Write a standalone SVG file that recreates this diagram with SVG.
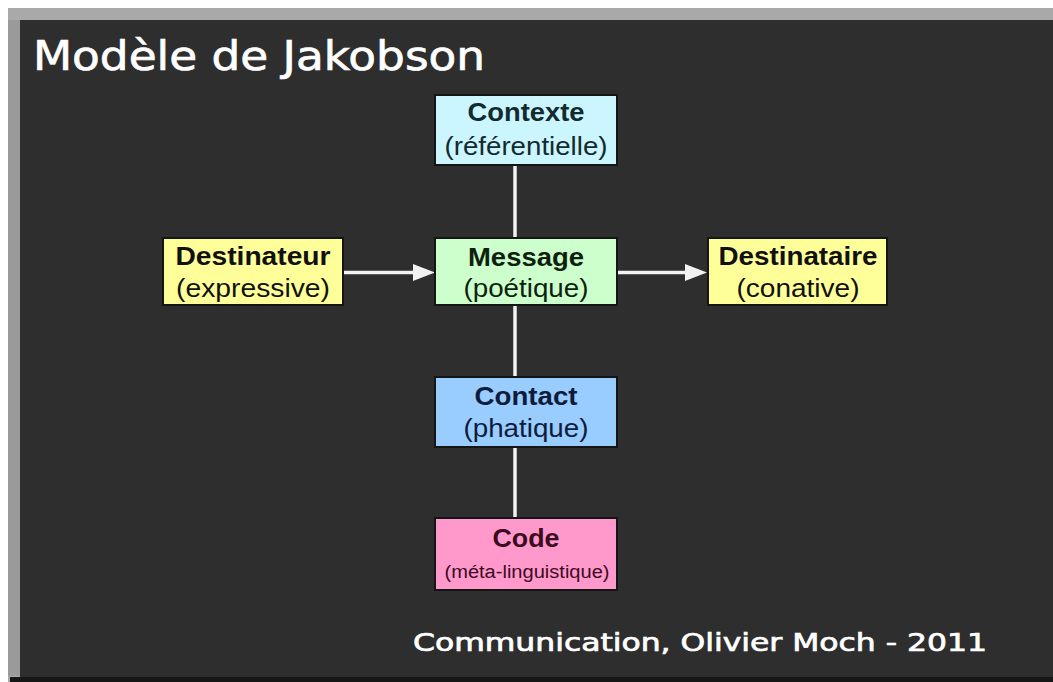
<svg xmlns="http://www.w3.org/2000/svg" width="1053" height="682" viewBox="0 0 1053 682">
  <defs>
    <style>
      .box { stroke: #151515; stroke-width: 2; }
      .t1 { font-family: "Liberation Sans", Arial, sans-serif; font-weight: bold; font-size: 26px; text-anchor: middle; }
      .t2 { font-family: "Liberation Sans", Arial, sans-serif; font-size: 25px; text-anchor: middle; }
      .t3 { font-family: "Liberation Sans", Arial, sans-serif; font-size: 18px; text-anchor: middle; }
      .link { stroke: #f2f2f2; stroke-width: 3.5; fill: none; }
      .head { fill: #f2f2f2; }
      .heading { font-family: "DejaVu Sans", Verdana, sans-serif; fill: #ffffff; stroke: #ffffff; stroke-width: 0.7; }
    </style>
  </defs>

  <!-- page and slide frame -->
  <rect x="0" y="0" width="1053" height="682" fill="#ffffff"/>
  <rect x="8" y="8" width="1045" height="674" fill="#a9a9a9"/>
  <rect x="8" y="20" width="12" height="656" fill="#9a9a9a"/>
  <rect x="20" y="20" width="1033" height="657" fill="#2e2e2e"/>
  <rect x="10" y="677" width="1043" height="5" fill="#161616"/>

  <!-- title -->
  <text class="heading" x="33" y="70" font-size="41" textLength="452" lengthAdjust="spacingAndGlyphs">Modèle de Jakobson</text>

  <!-- connectors -->
  <g id="connectors">
    <line class="link" x1="515" y1="165" x2="515" y2="238"/>
    <line class="link" x1="515" y1="305" x2="515" y2="377"/>
    <line class="link" x1="515" y1="447" x2="515" y2="518"/>
    <line class="link" x1="343" y1="272.5" x2="416" y2="272.5"/>
    <polygon class="head" points="413,264 435,272.5 413,281"/>
    <line class="link" x1="617" y1="272.5" x2="688" y2="272.5"/>
    <polygon class="head" points="685,264 707,272.5 685,281"/>
  </g>

  <g id="contexte">
    <rect class="box" x="435" y="95" width="182" height="70" fill="#ccf6ff"/>
    <text class="t1" x="526" y="121" fill="#132a2e" textLength="117" lengthAdjust="spacingAndGlyphs">Contexte</text>
    <text class="t2" x="526" y="155" fill="#132a2e" textLength="163" lengthAdjust="spacingAndGlyphs">(référentielle)</text>
  </g>

  <g id="destinateur">
    <rect class="box" x="163" y="238" width="180" height="67" fill="#ffff99"/>
    <text class="t1" x="253" y="265" fill="#111111" textLength="155" lengthAdjust="spacingAndGlyphs">Destinateur</text>
    <text class="t2" x="253" y="297" fill="#111111" textLength="154" lengthAdjust="spacingAndGlyphs">(expressive)</text>
  </g>

  <g id="message">
    <rect class="box" x="435" y="238" width="182" height="67" fill="#ccffcc"/>
    <text class="t1" x="526" y="266" fill="#0f1f0f" textLength="116" lengthAdjust="spacingAndGlyphs">Message</text>
    <text class="t2" x="526" y="297" fill="#0f1f0f" textLength="125" lengthAdjust="spacingAndGlyphs">(poétique)</text>
  </g>

  <g id="destinataire">
    <rect class="box" x="708" y="238" width="179" height="67" fill="#ffff99"/>
    <text class="t1" x="798" y="265" fill="#111111" textLength="159" lengthAdjust="spacingAndGlyphs">Destinataire</text>
    <text class="t2" x="798" y="297" fill="#111111" textLength="123" lengthAdjust="spacingAndGlyphs">(conative)</text>
  </g>

  <g id="contact">
    <rect class="box" x="435" y="377" width="182" height="70" fill="#99ccff"/>
    <text class="t1" x="526" y="405" fill="#0c1c3a" textLength="103" lengthAdjust="spacingAndGlyphs">Contact</text>
    <text class="t2" x="526" y="437" fill="#0c1c3a" textLength="125" lengthAdjust="spacingAndGlyphs">(phatique)</text>
  </g>

  <g id="code">
    <rect class="box" x="435" y="518" width="182" height="72" fill="#ff99cc"/>
    <text class="t1" x="526" y="547" fill="#3a0c1e" textLength="67" lengthAdjust="spacingAndGlyphs">Code</text>
    <text class="t3" x="527" y="578" fill="#3a0c1e" textLength="165" lengthAdjust="spacingAndGlyphs">(méta-linguistique)</text>
  </g>

  <!-- footer credit -->
  <text class="heading" x="413" y="651" font-size="24" stroke-width="0.5" textLength="574" lengthAdjust="spacingAndGlyphs">Communication, Olivier Moch - 2011</text>
</svg>
